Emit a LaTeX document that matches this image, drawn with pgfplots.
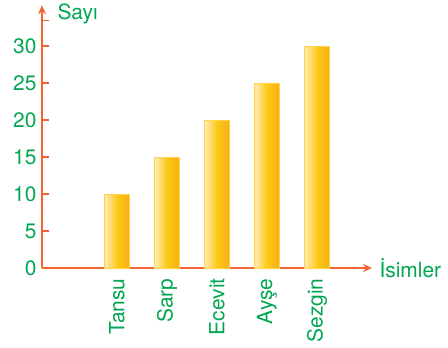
\documentclass[border=0pt]{standalone}
\usepackage{pgfplots}
\pgfplotsset{compat=1.18}
\usepackage{fontspec}
\setmainfont{TeX Gyre Heros}
\usetikzlibrary{arrows.meta}
\definecolor{axisorange}{HTML}{F26532}
\definecolor{labelgreen}{HTML}{00A651}
\definecolor{barlight}{HTML}{FFE7A6}
\definecolor{barmid}{HTML}{FCC814}
\definecolor{bardark}{HTML}{F8B218}
\definecolor{baredge}{HTML}{FFD24A}
\pgfdeclarehorizontalshading{barshade}{100bp}{%
  color(0bp)=(barlight); color(28bp)=(barlight); color(50bp)=(barmid); color(72bp)=(bardark); color(100bp)=(bardark)}
\pgfplotsset{goldbar/.style={ybar, bar width=25bp, bar shift=0pt, draw=baredge, line width=1bp, shading=barshade}}
\begin{document}
\begin{tikzpicture}
\useasboundingbox (-42bp,-80bp) rectangle (406bp,268bp);
\begin{axis}[
  at={(0,0)}, anchor=south west,
  scale only axis,
  x=50bp, y=7.4bp,
  xmin=-0.5, xmax=6.1, ymin=0, ymax=35.5,
  axis x line*=bottom, axis y line*=left,
  axis line style={axisorange, line width=1.4bp, -{Stealth[length=9bp,width=8bp]}},
  font=\fontsize{21}{24}\selectfont,
  /pgf/number format/assume math mode=true,
  major tick length=0pt,
  tick style={draw=none},
  ytick={0,5,...,30},
  yticklabel style={labelgreen, xshift=-2bp},
  xtick={1,2,3,4,5},
  xticklabels={Tansu,Sarp,Ecevit,Ayşe,Sezgin},
  xticklabel style={labelgreen, rotate=90, anchor=east, xshift=-7bp},
  ylabel={Sayı}, ylabel style={labelgreen, rotate=-90, anchor=west, at={(axis description cs:0,1)}, xshift=12bp, yshift=-9bp},
  xlabel={İsimler}, xlabel style={labelgreen, anchor=west, at={(axis description cs:1,0)}, xshift=4bp},
  clip=false,
]
% one plot per bar so each bar gets its own gradient
\addplot[goldbar] coordinates {(1,10)};
\addplot[goldbar] coordinates {(2,15)};
\addplot[goldbar] coordinates {(3,20)};
\addplot[goldbar] coordinates {(4,25)};
\addplot[goldbar] coordinates {(5,30)};
% short orange tick dashes on the inner side of the y axis
\addplot[only marks, mark=-, mark size=3.5bp, draw=axisorange,
  mark options={xshift=3.5bp, line width=1.3bp, draw=axisorange}]
  coordinates {(-0.5,5) (-0.5,10) (-0.5,15) (-0.5,20) (-0.5,25) (-0.5,30) (-0.5,33.4)};
\end{axis}
\end{tikzpicture}
\end{document}
